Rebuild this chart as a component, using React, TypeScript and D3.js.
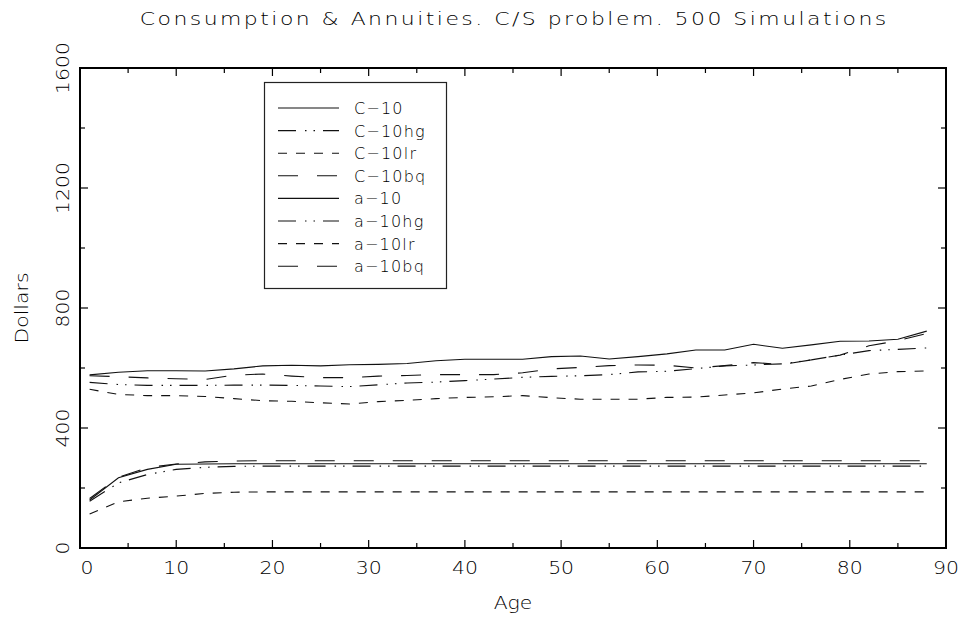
import * as d3 from "d3";

// ages at which the simulations were sampled
const ages = [1, 4, 7, 10, 13, 16, 19, 22, 25, 28, 31, 34, 37, 40, 43, 46, 49, 52, 55, 58, 61, 64, 67, 70, 73, 76, 79, 82, 85, 88];

// consumption paths
const c10 = [577, 586, 591, 591, 590, 597, 607, 609, 607, 611, 612, 615, 624, 629, 629, 629, 638, 640, 630, 638, 647, 660, 660, 679, 666, 677, 689, 690, 696, 723];
const c10hg = [552, 545, 542, 542, 542, 543, 543, 542, 540, 538, 544, 550, 553, 558, 563, 569, 572, 574, 578, 587, 589, 598, 607, 610, 614, 627, 643, 658, 662, 667];
const c10lr = [529, 512, 508, 508, 505, 498, 491, 489, 484, 480, 488, 492, 498, 502, 504, 508, 501, 496, 496, 496, 502, 503, 510, 517, 530, 540, 562, 580, 588, 590];
const c10bq = [574, 571, 567, 564, 562, 576, 580, 573, 568, 568, 573, 575, 578, 578, 578, 584, 597, 602, 608, 610, 609, 600, 608, 618, 612, 627, 643, 674, 691, 715];

// annuity paths
const a10 = [160, 234, 262, 279, 280, 281, 281, 281, 281, 281, 281, 281, 281, 281, 281, 281, 281, 281, 281, 281, 281, 281, 281, 281, 281, 281, 281, 281, 281, 281];
const a10hg = [156, 217, 245, 262, 269, 272, 273, 273, 273, 273, 273, 273, 273, 273, 273, 273, 273, 273, 273, 273, 273, 273, 273, 273, 273, 273, 273, 273, 273, 273];
const a10lr = [113, 154, 166, 173, 182, 186, 187, 187, 187, 187, 187, 187, 187, 187, 187, 187, 187, 187, 187, 187, 187, 187, 187, 187, 187, 187, 187, 187, 187, 187];
const a10bq = [165, 236, 268, 280, 287, 290, 291, 291, 291, 291, 291, 291, 291, 291, 291, 291, 291, 291, 291, 291, 291, 291, 291, 291, 291, 291, 291, 291, 291, 291];

const seriesNames = ["C\u221210", "C\u221210hg", "C\u221210lr", "C\u221210bq", "a\u221210", "a\u221210hg", "a\u221210lr", "a\u221210bq"];
const seriesValues = [c10, c10hg, c10lr, c10bq, a10, a10hg, a10lr, a10bq];

const xTicks = [0, 10, 20, 30, 40, 50, 60, 70, 80, 90];
const yTicks = [0, 400, 800, 1200, 1600];

const dashes = ["none", "18,9,1.5,7,1.5,8", "9,9", "20,19"];

const W = 961;
const H = 619;
const left = 80, right = 946, top = 68, bottom = 548;
const font = "'DejaVu Sans', sans-serif";

export default function App() {
  const x = d3.scaleLinear().domain([0, 90]).range([left, right]);
  const y = d3.scaleLinear().domain([0, 1600]).range([bottom, top]);

  const line = d3.line<number>()
    .x((_, i) => x(ages[i]))
    .y(d => y(d));

  const xMinor = d3.range(5, 90, 10);
  const yMinor = d3.range(200, 1600, 400);

  return (
    <svg width={W} height={H} style={{ position: "absolute", left: 0, top: 0, background: "#fff" }}>
      <text transform="translate(513,25) scale(1.22,1)" textAnchor="middle" fontFamily={font} fontSize={18}
        fontWeight={200} textLength={612} lengthAdjust="spacing" fill="#000">
        Consumption &amp; Annuities. C/S problem. 500 Simulations
      </text>

      {/* series */}
      {seriesValues.map((vals, i) => (
        <path key={i} d={line(vals) || ""} fill="none" stroke="#111" strokeWidth={1.1}
          strokeDasharray={dashes[i % 4]} />
      ))}

      {/* ticks, inside on all four sides */}
      {xTicks.map(t => (
        <g key={"xt" + t}>
          <line x1={x(t)} x2={x(t)} y1={bottom} y2={bottom - 8} stroke="#000" strokeWidth={1.2} />
          <line x1={x(t)} x2={x(t)} y1={top} y2={top + 8} stroke="#000" strokeWidth={1.2} />
          <text transform={`translate(${t === 0 ? x(t) + 7 : x(t)},574) scale(1.2,1)`} textAnchor="middle" fontFamily={font}
            fontSize={17} fontWeight={200} fill="#000">{t}</text>
        </g>
      ))}
      {xMinor.map(t => (
        <g key={"xm" + t}>
          <line x1={x(t)} x2={x(t)} y1={bottom} y2={bottom - 5} stroke="#000" strokeWidth={1.2} />
          <line x1={x(t)} x2={x(t)} y1={top} y2={top + 5} stroke="#000" strokeWidth={1.2} />
        </g>
      ))}
      {yTicks.map(t => (
        <g key={"yt" + t}>
          <line x1={left} x2={left + 8} y1={y(t)} y2={y(t)} stroke="#000" strokeWidth={1.2} />
          <line x1={right} x2={right - 8} y1={y(t)} y2={y(t)} stroke="#000" strokeWidth={1.2} />
          <text transform={`translate(69,${y(t)}) rotate(-90) scale(1.2,1)`} textAnchor="middle" fontFamily={font}
            fontSize={17} fontWeight={200} fill="#000">{t}</text>
        </g>
      ))}
      {yMinor.map(t => (
        <g key={"ym" + t}>
          <line x1={left} x2={left + 5} y1={y(t)} y2={y(t)} stroke="#000" strokeWidth={1.2} />
          <line x1={right} x2={right - 5} y1={y(t)} y2={y(t)} stroke="#000" strokeWidth={1.2} />
        </g>
      ))}

      {/* frame */}
      <rect x={left} y={top} width={right - left} height={bottom - top} fill="none" stroke="#000" strokeWidth={2} />

      {/* axis titles */}
      <text transform="translate(513,609) scale(1.2,1)" textAnchor="middle" fontFamily={font} fontSize={17} fontWeight={200} fill="#000">Age</text>
      <text transform="translate(28,308) rotate(-90) scale(1.2,1)" textAnchor="middle" fontFamily={font} fontSize={17}
        fontWeight={200} fill="#000">Dollars</text>

      {/* legend */}
      <rect x={264.5} y={82.5} width={182} height={206} fill="#fff" stroke="#222" strokeWidth={1.2} />
      {seriesNames.map((name, i) => {
        const ly = 108 + i * 22.6;
        return (
          <g key={name}>
            <line x1={278} x2={339} y1={ly} y2={ly} stroke="#111" strokeWidth={1.1} strokeDasharray={dashes[i % 4]} />
            <text x={354} y={ly + 6} fontFamily={font} fontSize={16} fontWeight={200}
              letterSpacing={1.2} fill="#000">{name}</text>
          </g>
        );
      })}
    </svg>
  );
}
